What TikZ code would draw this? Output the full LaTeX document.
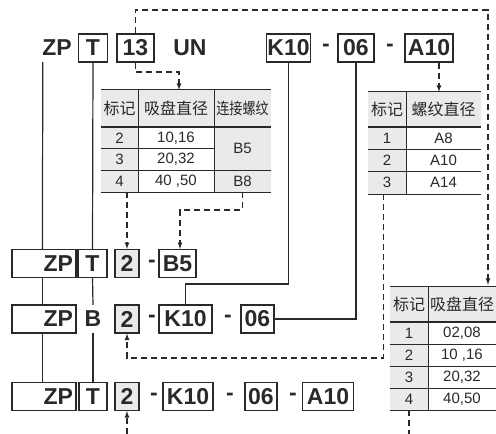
\documentclass[tikz,border=0pt]{standalone}
\usepackage{fontspec}
\setmainfont{Liberation Sans}
\newfontfamily\cjk{Noto Sans CJK SC}
\definecolor{encre}{RGB}{45,40,40}
\definecolor{grisclair}{RGB}{234,234,234}
\begin{document}
\begin{tikzpicture}[x=1pt,y=-1pt]
		% Styles (MODIFIABLES)
		\tikzstyle{lien}=[-,draw=encre,line width=1.2pt]
		\tikzstyle{pointille}=[->,>=latex,draw=encre,line width=1.2pt,dash pattern=on 6pt off 4pt]
		\tikzstyle{lettre}=[inner sep=0pt,minimum height=28pt,text=encre,font=\fontsize{23}{23}\selectfont\bfseries]
		\tikzstyle{boite}=[lettre,draw=encre,line width=1.2pt]
		\tikzstyle{grise}=[boite,fill=grisclair]
		\tikzstyle{cadreZP}=[boite,minimum width=64pt,text width=58pt,align=right]
		\tikzstyle{entete}=[fill=grisclair,inner sep=0pt,text=encre,font=\cjk\fontsize{16}{16}\selectfont]
		\tikzstyle{repere}=[fill=grisclair,inner sep=0pt,text=encre,font=\fontsize{15}{15}\selectfont]
		\tikzstyle{valeur}=[fill=white,inner sep=0pt,text=encre,font=\fontsize{15}{15}\selectfont]
		\tikzstyle{filet}=[draw=encre,line width=1.2pt]
		\tikzstyle{filetfort}=[draw=encre,line width=2pt]
		% Rangs (MODIFIABLES)
		\def\RangHaut{48}
		\def\RangA{263.5}
		\def\RangB{319}
		\def\RangC{396.5}
		\clip (0,0) rectangle (496,434);
		% Code complet
		\node[lettre,minimum width=30pt] (ZP1) at (57,\RangHaut) {ZP};
		\node[boite,minimum width=29pt] (T1) at (93,\RangHaut) {T};
		\node[boite,minimum width=37pt] (N1) at (135.5,\RangHaut) {13};
		\node[lettre] (UN1) at (190,\RangHaut) {UN};
		\node[boite,minimum width=44pt] (K1) at (288.5,\RangHaut) {K10};
		\node[lettre] (tir1a) at (326,\RangHaut) {-};
		\node[boite,minimum width=36pt] (F1) at (356,\RangHaut) {06};
		\node[lettre] (tir1b) at (390,\RangHaut) {-};
		\node[boite,minimum width=48pt] (A1) at (429,\RangHaut) {A10};
		% Ligne A
		\node[cadreZP] (ZP2) at (44,\RangA) {ZP};
		\node[boite,minimum width=29pt] (T2) at (92.5,\RangA) {T};
		\node[grise,minimum width=24pt] (D2) at (127,\RangA) {2};
		\node[lettre] (tir2) at (152,\RangA) {-};
		\node[boite,minimum width=37pt] (B2) at (177.5,\RangA) {B5};
		% Ligne B
		\node[cadreZP] (ZP3) at (44,\RangB) {ZP};
		\node[lettre] (B3) at (93,\RangB) {B};
		\node[grise,minimum width=24pt] (D3) at (127,\RangB) {2};
		\node[lettre] (tir3a) at (152,\RangB) {-};
		\node[boite,minimum width=53pt] (K3) at (185.5,\RangB) {K10};
		\node[lettre] (tir3b) at (228,\RangB) {-};
		\node[boite,minimum width=33pt] (F3) at (257.5,\RangB) {06};
		% Ligne C
		\node[cadreZP] (ZP4) at (44,\RangC) {ZP};
		\node[boite,minimum width=28pt] (T4) at (93,\RangC) {T};
		\node[grise,minimum width=24pt] (D4) at (127,\RangC) {2};
		\node[lettre] (tir4a) at (154,\RangC) {-};
		\node[boite,minimum width=50pt] (K4) at (188,\RangC) {K10};
		\node[lettre] (tir4b) at (230,\RangC) {-};
		\node[boite,minimum width=32pt] (F4) at (261,\RangC) {06};
		\node[lettre] (tir4c) at (293,\RangC) {-};
		\node[boite,minimum width=51pt] (A4) at (328,\RangC) {A10};
		% Tableau A
		\node[entete,minimum width=37pt,minimum height=37pt] (tA11) at (119.5,108.5) {标记};
		\node[entete,minimum width=76pt,minimum height=37pt] (tA12) at (176,108.5) {吸盘直径};
		\node[entete,minimum width=57pt,minimum height=37pt] (tA13) at (242.5,108.5) {\scalebox{0.82}[1]{连接螺纹}};
		\node[repere,minimum width=37pt,minimum height=21.7pt] (tA21) at (119.5,137.8) {2};
		\node[valeur,minimum width=76pt,minimum height=21.7pt] (tA22) at (176,137.8) {10,16};
		\node[repere,minimum width=57pt,minimum height=43.3pt] (tA23) at (242.5,148.7) {B5};
		\node[repere,minimum width=37pt,minimum height=21.7pt] (tA31) at (119.5,159.5) {3};
		\node[valeur,minimum width=76pt,minimum height=21.7pt] (tA32) at (176,159.5) {20,32};
		\node[repere,minimum width=37pt,minimum height=21.7pt] (tA41) at (119.5,181.2) {4};
		\node[valeur,minimum width=76pt,minimum height=21.7pt] (tA42) at (176,181.2) {40 ,50};
		\node[repere,minimum width=57pt,minimum height=21.7pt] (tA43) at (242.5,181.2) {B8};
		\draw[filet] (tA11.north west) -- (tA13.north east);
		\draw[filetfort] (tA11.south west) -- (tA13.south east);
		\draw[filet] (tA21.south west) -- (tA22.south east);
		\draw[filet] (tA31.south west) -- (tA23.south east);
		\draw[filet] (tA41.south west) -- (tA43.south east);
		\draw[filet] (tA11.north east) -- (tA41.south east);
		\draw[filet] (tA12.north east) -- (tA42.south east);
		% Tableau B
		\node[entete,minimum width=38pt,minimum height=35pt] (tB11) at (387,109.5) {标记};
		\node[entete,minimum width=75pt,minimum height=35pt] (tB12) at (443.5,109.5) {螺纹直径};
		\node[repere,minimum width=38pt,minimum height=22.3pt] (tB21) at (387,138.2) {1};
		\node[valeur,minimum width=75pt,minimum height=22.3pt] (tB22) at (443.5,138.2) {A8};
		\node[repere,minimum width=38pt,minimum height=22.3pt] (tB31) at (387,160.5) {2};
		\node[valeur,minimum width=75pt,minimum height=22.3pt] (tB32) at (443.5,160.5) {A10};
		\node[repere,minimum width=38pt,minimum height=22.3pt] (tB41) at (387,182.8) {3};
		\node[valeur,minimum width=75pt,minimum height=22.3pt] (tB42) at (443.5,182.8) {A14};
		\draw[filet] (tB11.north west) -- (tB12.north east);
		\draw[filetfort] (tB11.south west) -- (tB12.south east);
		\draw[filet] (tB21.south west) -- (tB22.south east);
		\draw[filet] (tB31.south west) -- (tB32.south east);
		\draw[filet] (tB41.south west) -- (tB42.south east);
		\draw[filet] (tB11.north east) -- (tB41.south east);
		% Tableau C
		\node[entete,minimum width=38pt,minimum height=35pt] (tC11) at (409,304.5) {标记};
		\node[entete,minimum width=68pt,minimum height=35pt] (tC12) at (462,304.5) {吸盘直径};
		\node[repere,minimum width=38pt,minimum height=22pt] (tC21) at (409,333) {1};
		\node[valeur,minimum width=68pt,minimum height=22pt] (tC22) at (462,333) {02,08};
		\node[repere,minimum width=38pt,minimum height=22pt] (tC31) at (409,355) {2};
		\node[valeur,minimum width=68pt,minimum height=22pt] (tC32) at (462,355) {10 ,16};
		\node[repere,minimum width=38pt,minimum height=22pt] (tC41) at (409,377) {3};
		\node[valeur,minimum width=68pt,minimum height=22pt] (tC42) at (462,377) {20,32};
		\node[repere,minimum width=38pt,minimum height=22pt] (tC51) at (409,399) {4};
		\node[valeur,minimum width=68pt,minimum height=22pt] (tC52) at (462,399) {40,50};
		\draw[filet] (tC11.north west) -- (tC12.north east);
		\draw[filetfort] (tC11.south west) -- (tC12.south east);
		\draw[filet] (tC21.south west) -- (tC22.south east);
		\draw[filet] (tC31.south west) -- (tC32.south east);
		\draw[filet] (tC41.south west) -- (tC42.south east);
		\draw[filet] (tC51.south west) -- (tC52.south east);
		\draw[filet] (tC11.north east) -- (tC51.south east);
		% Coudes
		\coordinate (coinA) at (488,10);
		\coordinate (coinB) at (179,72);
		\coordinate (coinC) at (180,210);
		\coordinate (coinD) at (383.5,358);
		\coordinate (coudeK) at (288.5,284);
		\coordinate (basC) at (127,434);
		\coordinate (basT) at (409,434);
		% Traits pleins
		\draw[lien] ([xshift=1pt]ZP1.south west) -- ([xshift=31pt]ZP2.north west);
		\draw[lien] ([xshift=31pt]ZP2.south west) -- ([xshift=31pt]ZP3.north west);
		\draw[lien] ([xshift=31pt]ZP3.south west) -- ([xshift=31pt]ZP4.north west);
		\draw[lien] (T1.south) -- (T2.north);
		\draw[lien] (T2.south) -- (B3.north);
		\draw[lien] (B3.south) -- (T4.north);
		\draw[lien] (K1.south) -- (coudeK) -| (K3.north);
		\draw[lien] (F3.east) -| (F1.south);
		% Pointilles
		\draw[pointille,shorten >=2pt] (N1.north) |- (coinA) -- (coinA |- tC12.north);
		\draw[pointille] (N1.south) |- (coinB) -- (coinB |- tA12.north);
		\draw[pointille] ([xshift=10pt]A1.south) -- ([xshift=10pt]A1.south |- tB12.north);
		\draw[pointille] (D2.north |- tA41.south) -- (D2.north);
		\draw[pointille] (tA43.south) |- (coinC) -- (coinC |- B2.north);
		\draw[pointille] (coinD |- tB41.south) -- (coinD) -| (D3.south);
		\draw[pointille] (basC) -- (D4.south);
		\draw[pointille,-] (tC51.south) -- (basT);
	\end{tikzpicture}
\end{document}
